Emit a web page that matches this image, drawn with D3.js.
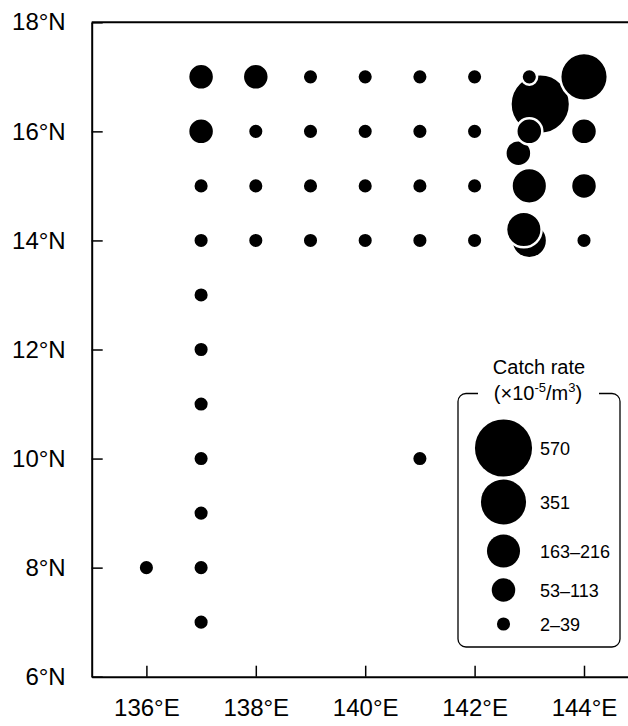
<!DOCTYPE html>
<html>
<head>
<meta charset="utf-8">
<script src="https://cdn.jsdelivr.net/npm/d3@7"></script>
<style>
  body { margin: 0; background: white; }
  svg { display: block; font-family: "Liberation Sans", Arial, sans-serif; }
</style>
</head>
<body>
<svg id="chart" width="628" height="726"></svg>
<script>
// tick values
var lonTicks = [136, 138, 140, 142, 144];
var latTicks = [6, 8, 10, 12, 14, 16, 18];

// catch-rate classes (x10^-5 / m3), largest first as in the legend
var rateClasses = ["570", "351", "163–216", "53–113", "2–39"];

// stations: longitude (E), latitude (N), catch-rate class
var stationLon = [143.2,
    137, 138, 139, 140, 141, 142, 143, 144,
    137, 138, 139, 140, 141, 142, 142.8, 143, 144,
    137, 138, 139, 140, 141, 142, 143, 144,
    137, 138, 139, 140, 141, 142, 143, 142.9, 144,
    137, 137, 137, 137, 141, 137, 137, 136, 137];
var stationLat = [16.5,
    17, 17, 17, 17, 17, 17, 17, 17,
    16, 16, 16, 16, 16, 16, 15.6, 16, 16,
    15, 15, 15, 15, 15, 15, 15, 15,
    14, 14, 14, 14, 14, 14, 14, 14.2, 14,
    13, 12, 11, 10, 10, 9, 8, 8, 7];
var stationRate = ["570",
    "53–113", "53–113", "2–39", "2–39", "2–39", "2–39", "2–39", "351",
    "53–113", "2–39", "2–39", "2–39", "2–39", "2–39", "53–113", "53–113", "53–113",
    "2–39", "2–39", "2–39", "2–39", "2–39", "2–39", "163–216", "53–113",
    "2–39", "2–39", "2–39", "2–39", "2–39", "2–39", "163–216", "163–216", "2–39",
    "2–39", "2–39", "2–39", "2–39", "2–39", "2–39", "2–39", "2–39", "2–39"];

var svg = d3.select("#chart");

var x = d3.scaleLinear().domain([135, 145]).range([91.7, 638.7]);
var y = d3.scaleLinear().domain([6, 18]).range([676.7, 22.3]);

// radius per class (white ring of 1.25px eats into it)
var radius = d3.scaleOrdinal()
    .domain(rateClasses)
    .range([29.8, 23.8, 17.8, 13, 7.8]);

var stations = stationLon.map(function(lon, i){
    return {lon: lon, lat: stationLat[i], rate: stationRate[i], order: i};
});
stations.sort(function(a, b){
    return radius(b.rate) - radius(a.rate) || a.order - b.order;
});

// axes
var xAxis = d3.axisBottom(x)
    .tickValues(lonTicks)
    .tickSizeInner(-11)
    .tickSizeOuter(0)
    .tickPadding(22)
    .tickFormat(function(d){return d + "°E"});
var yAxis = d3.axisLeft(y)
    .tickValues(latTicks)
    .tickSizeInner(-11)
    .tickSizeOuter(0)
    .tickPadding(26)
    .tickFormat(function(d){return d + "°N"});

var gx = svg.append("g")
    .attr("transform", "translate(0," + y(6) + ")")
    .call(xAxis);
var gy = svg.append("g")
    .attr("transform", "translate(" + x(135) + ",0)")
    .call(yAxis);

[gx, gy].forEach(function(g){
    g.select(".domain").attr("stroke", "black").attr("stroke-width", 2);
    g.selectAll(".tick line").attr("stroke", "black").attr("stroke-width", 1.5);
    g.selectAll(".tick text")
        .attr("fill", "black")
        .attr("font-size", 24)
        .attr("font-family", "Liberation Sans, Arial, sans-serif");
});

svg.append("line")
    .attr("x1", x(135))
    .attr("x2", x(145))
    .attr("y1", y(18))
    .attr("y2", y(18))
    .attr("stroke", "black")
    .attr("stroke-width", 2);

// stations
svg.append("g").selectAll("circle")
    .data(stations)
    .enter()
    .append("circle")
    .attr("cx", function(d){return x(d.lon)})
    .attr("cy", function(d){return y(d.lat)})
    .attr("r", function(d){return radius(d.rate)})
    .attr("fill", "black")
    .attr("stroke", "white")
    .attr("stroke-width", 2.5);

// legend
var legend = svg.append("g");
var lx0 = 458, lx1 = 620, ly0 = 393.5, ly1 = 647, cr = 8;
var legendRowY = d3.scaleOrdinal()
    .domain(rateClasses)
    .range([448, 502, 551, 590, 624]);

legend.append("path")
    .attr("d", "M" + 478 + "," + ly0 +
        " H" + (lx0 + cr) +
        " A" + cr + "," + cr + " 0 0 0 " + lx0 + "," + (ly0 + cr) +
        " V" + (ly1 - cr) +
        " A" + cr + "," + cr + " 0 0 0 " + (lx0 + cr) + "," + ly1 +
        " H" + (lx1 - cr) +
        " A" + cr + "," + cr + " 0 0 0 " + lx1 + "," + (ly1 - cr) +
        " V" + (ly0 + cr) +
        " A" + cr + "," + cr + " 0 0 0 " + (lx1 - cr) + "," + ly0 +
        " H" + 599)
    .attr("fill", "none")
    .attr("stroke", "black")
    .attr("stroke-width", 1.3);

legend.append("text")
    .attr("x", 539)
    .attr("y", 374)
    .attr("text-anchor", "middle")
    .attr("font-size", 20)
    .text("Catch rate");

var sub = legend.append("text")
    .attr("x", 538)
    .attr("y", 400)
    .attr("text-anchor", "middle")
    .attr("font-size", 20);
sub.append("tspan").text("(×10");
sub.append("tspan").attr("font-size", 13).attr("dy", -8).text("-5");
sub.append("tspan").attr("dy", 8).text("/m");
sub.append("tspan").attr("font-size", 13).attr("dy", -8).text("3");
sub.append("tspan").attr("dy", 8).text(")");

var entry = legend.selectAll(".legend-entry")
    .data(rateClasses)
    .enter()
    .append("g")
    .classed("legend-entry", true);
entry.append("circle")
    .attr("cx", 503.5)
    .attr("cy", function(d){return legendRowY(d)})
    .attr("r", function(d){return radius(d) - 1.25})
    .attr("fill", "black");
entry.append("text")
    .attr("x", 540)
    .attr("y", function(d){return legendRowY(d) + 6.5})
    .attr("font-size", 18)
    .text(function(d){return d});
</script>
</body>
</html>
